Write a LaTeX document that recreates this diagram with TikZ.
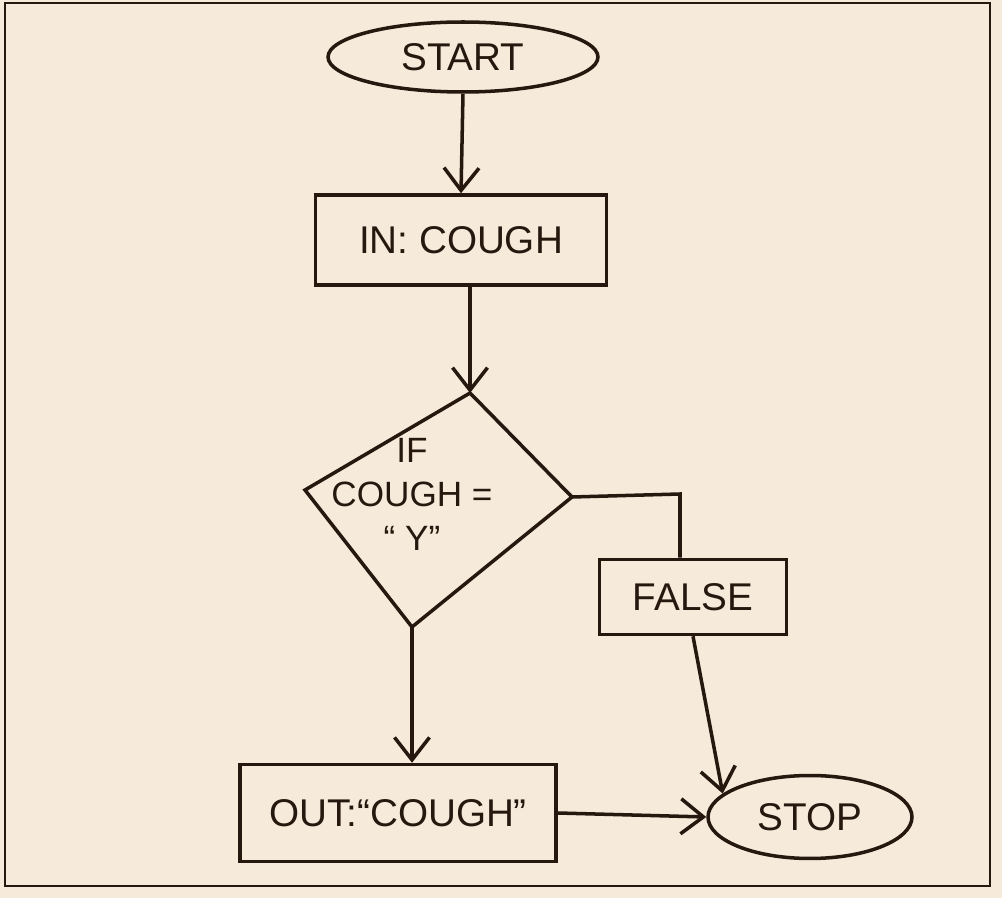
\documentclass[tikz,border=0pt]{standalone}
\usepackage{fontspec}
\setmainfont{Liberation Sans}
\usetikzlibrary{shapes.geometric,arrows.meta}
\definecolor{paper}{RGB}{246,235,218}
\definecolor{ink}{RGB}{38,24,14}
\tikzset{
  label/.style={font=\fontsize{22}{27}\selectfont, text=ink},
  terminal/.style={label, ellipse, draw=ink, line width=2pt, inner sep=0pt},
  iobox/.style={label, rectangle, draw=ink, line width=2pt, inner sep=0pt},
  edge/.style={draw=ink, line width=2pt},
  flow/.style={edge, -{Straight Barb[length=4.5mm,width=7mm]}}
}
\begin{document}
\begin{tikzpicture}[x=0.02cm, y=-0.02cm]
    \useasboundingbox (0,0) rectangle (1002,898);
    \fill[paper] (0,0) rectangle (1002,898);
    \draw[ink, line width=1pt] (5,3) rectangle (990,886);
    % terminals and boxes
    \node [terminal, minimum width=5.4cm, minimum height=1.4cm] (start) at (463,57) {START};
    \node [iobox, minimum width=5.82cm, minimum height=1.8cm] (in) at (461,240) {IN: COUGH};
    \node [iobox, minimum width=3.74cm, minimum height=1.5cm] (false) at (693,597) {FALSE};
    \node [iobox, minimum width=6.32cm, minimum height=1.94cm] (out) at (398,813) {OUT:``COUGH''};
    \node [terminal, minimum width=4.08cm, minimum height=1.66cm] (stop) at (810,817) {STOP};
    % decision
    \coordinate (dtop) at (470,393);
    \coordinate (dright) at (572,497);
    \coordinate (dbottom) at (412,627);
    \coordinate (dleft) at (305,490);
    \draw [edge] (dtop) -- (dright) -- (dbottom) -- (dleft) -- cycle;
    \node [label, font=\fontsize{20}{25}\selectfont, align=center] (test) at (412,494) {IF\\COUGH =\\`` Y''};
    \coordinate (bend) at (680,494);
    % connectors
    \draw [flow] (start.south) -- (in.north);
    \draw [flow] (in.south -| dtop) -- (dtop);
    \draw [flow] (dbottom) -- (out.north -| dbottom);
    \draw [edge] (dright) -- (bend) -- (bend |- false.north);
    \draw [flow] (false.south) -- (stop.165);
    \draw [flow] (out.east) -- (stop.west);
  \end{tikzpicture}
\end{document}
